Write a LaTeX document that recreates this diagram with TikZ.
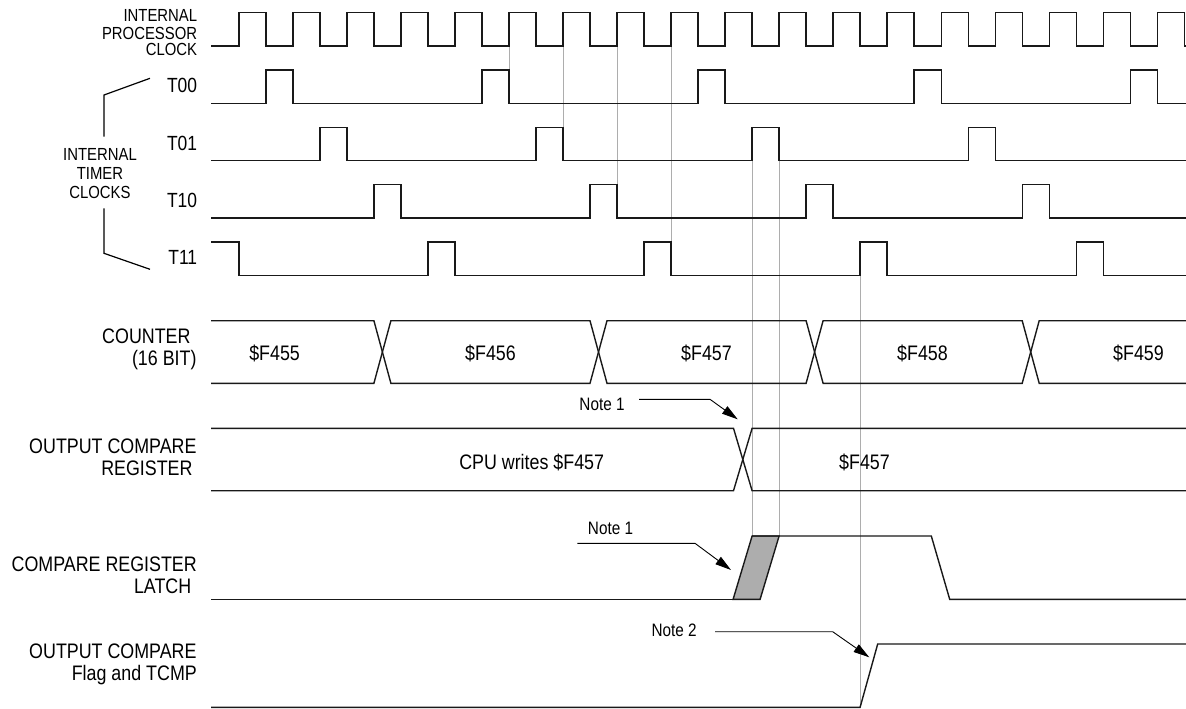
\documentclass[tikz,border=0pt]{standalone}
\usepackage{fontspec}
\setmainfont{Liberation Sans}[FakeStretch=0.85]
\usetikzlibrary{arrows.meta}
\newcommand\pulsetrain[3]{%
  \draw[sig] (211,#2) \foreach \i in {#3} { -- ({\xo+\i*\hh},#2) -- ({\xo+\i*\hh},#1) -- ({\xo+(\i+1)*\hh},#1) -- ({\xo+(\i+1)*\hh},#2) } -- (1186,#2);}
\begin{document}
\begin{tikzpicture}[x=1pt,y=-1pt,
  sig/.style={line width=1.4pt, line join=miter, black!90},
  guide/.style={line width=0.9pt, black!32},
  lab/.style={inner sep=0pt, anchor=base east, font=\fontsize{21}{22}\selectfont},
  smalllab/.style={inner sep=0pt, anchor=base east, font=\fontsize{17.5}{17}\selectfont},
  tlab/.style={inner sep=0pt, anchor=base east, font=\fontsize{20.5}{21}\selectfont},
  val/.style={inner sep=0pt, anchor=base, font=\fontsize{21}{22}\selectfont},
  notelab/.style={inner sep=0pt, anchor=base, font=\fontsize{18}{18}\selectfont},
  callout/.style={line width=0.9pt, -{Triangle[length=16pt,width=9pt]}},
  bracket/.style={line width=1.2pt}]
\def\xo{238.8}
\def\hh{27.015}
\useasboundingbox (0,0) rectangle (1186,709);

% guide lines (behind)
\draw[guide] (508.95,46) -- (508.95,103.3);
\draw[guide] (563.0,46) -- (563.0,160.7);
\draw[guide] (617.0,46) -- (617.0,218);
\draw[guide] (671.0,46) -- (671.0,275.3);
\draw[guide] (752.1,160.7) -- (752.1,536);
\draw[guide] (779.1,160.7) -- (779.1,536);
\draw[guide] (860.1,275.3) -- (860.1,707.3);

% clock
\draw[sig] (211,46) \foreach \k in {0,...,17} { -- ({\xo+2*\k*\hh},46) -- ({\xo+2*\k*\hh},12.7) -- ({\xo+(2*\k+1)*\hh},12.7) -- ({\xo+(2*\k+1)*\hh},46) } -- (1186,46);

% timer clocks
\pulsetrain{70}{103.3}{1,9,17,25,33}
\pulsetrain{127.3}{160.7}{3,11,19,27}
\pulsetrain{184.7}{218}{5,13,21,29}
\draw[sig] (211,242) -- (\xo,242) -- (\xo,275.3) \foreach \i in {7,15,23,31} { -- ({\xo+\i*\hh},275.3) -- ({\xo+\i*\hh},242) -- ({\xo+(\i+1)*\hh},242) -- ({\xo+(\i+1)*\hh},275.3) } -- (1186,275.3);

% counter
\draw[sig] (211,320.7) -- (373.9,320.7) -- (390.9,383.3) -- (590.0,383.3) -- (607.0,320.7) -- (806.1,320.7) -- (823.1,383.3) -- (1022.2,383.3) -- (1039.2,320.7) -- (1186,320.7);
\draw[sig] (211,383.3) -- (373.9,383.3) -- (390.9,320.7) -- (590.0,320.7) -- (607.0,383.3) -- (806.1,383.3) -- (823.1,320.7) -- (1022.2,320.7) -- (1039.2,383.3) -- (1186,383.3);

% output compare register
\draw[sig] (211,428.3) -- (733.5,428.3) -- (752.1,490.7) -- (1186,490.7);
\draw[sig] (211,490.7) -- (733.5,490.7) -- (752.1,428.3) -- (1186,428.3);

% latch
\draw[sig, fill=black!32] (733.1,599.3) -- (752.1,536) -- (779.1,536) -- (760.1,599.3) -- cycle;
\draw[sig] (211,599.3) -- (733.1,599.3);
\draw[sig] (752.1,536) -- (931.3,536) -- (949.7,599.3) -- (1186,599.3);

% flag
\draw[sig] (211,707.3) -- (860.1,707.3) -- (877.7,644) -- (1186,644);

% left labels
\node[smalllab] (ipc1) at (197.3,22) {INTERNAL};
\node[smalllab] (ipc2) at (197.3,39.3) {PROCESSOR};
\node[smalllab] (ipc3) at (197.3,55.3) {CLOCK};
\node[tlab] (t00) at (197.3,92.7) {T00};
\node[tlab] (t01) at (197.3,150) {T01};
\node[tlab] (t10) at (197.3,207.3) {T10};
\node[tlab] (t11) at (197.3,264.6) {T11};
\node[smalllab, anchor=base] (itc1) at (100,160) {INTERNAL};
\node[smalllab, anchor=base] (itc2) at (100,179) {TIMER};
\node[smalllab, anchor=base] (itc3) at (100,198) {CLOCKS};
\draw[bracket] (150,78.3) -- (104,95) -- (104,136.7);
\draw[bracket] (104,208.3) -- (104,253.3) -- (150,269.3);

\node[lab] (cnt1) at (190.7,343) {COUNTER};
\node[lab] (cnt2) at (196.7,365) {(16 BIT)};
\node[lab] (ocr1) at (196.7,453) {OUTPUT COMPARE};
\node[lab] (ocr2) at (192.7,475) {REGISTER};
\node[lab] (crl1) at (197,571.7) {COMPARE REGISTER};
\node[lab] (crl2) at (191.4,593) {LATCH};
\node[lab] (ocf1) at (196.7,658) {OUTPUT COMPARE};
\node[lab] (ocf2) at (197,680) {Flag and TCMP};

% values
\node[val] (v455) at (274.6,360) {\$F455};
\node[val] (v456) at (490.5,360) {\$F456};
\node[val] (v457) at (706.5,360) {\$F457};
\node[val] (v458) at (922.5,360) {\$F458};
\node[val] (v459) at (1138.5,360) {\$F459};
\node[val] (cpuw) at (531.7,469.3) {CPU writes \$F457};
\node[val] (ocrv) at (864.5,469.5) {\$F457};

% notes
\node[notelab] (note1a) at (602,410) {Note 1};
\coordinate (tip1a) at (737.7,419.3);
\draw[callout] (639,399.3) -- (710,399.3) -- (tip1a);
\node[notelab] (note1b) at (610.5,534) {Note 1};
\coordinate (tip1b) at (731,570);
\draw[callout] (577.3,543.3) -- (695,543.3) -- (tip1b);
\node[notelab] (note2) at (674.2,636.7) {Note 2};
\coordinate (tip2) at (869.3,657.3);
\draw[callout] (715,631.7) -- (832.7,631.7) -- (tip2);
\end{tikzpicture}
\end{document}
